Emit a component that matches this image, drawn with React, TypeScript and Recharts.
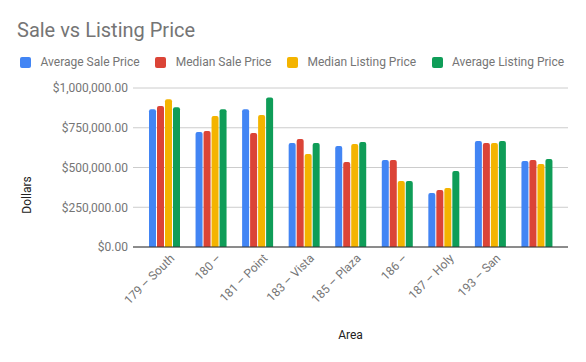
import React from 'react';
import { BarChart, Bar, XAxis, YAxis, CartesianGrid } from 'recharts';

const areas = ['179 – South', '180 –', '181 – Point', '183 – Vista', '185 – Plaza', '186 –', '187 – Holy', '193 – San', ''];
const avgSale = [866000, 723000, 866000, 654000, 635000, 547000, 340000, 667000, 541000];
const medSale = [887000, 730000, 717000, 679000, 535000, 547000, 358000, 654000, 547000];
const medList = [929000, 824000, 830000, 585000, 648000, 415000, 371000, 654000, 522000];
const avgList = [879000, 866000, 941000, 654000, 660000, 415000, 478000, 667000, 553000];
const yTicks = [0, 250000, 500000, 750000, 1000000];

const series = [
  { key: 'avgSale', name: 'Average Sale Price', color: '#4285F4', values: avgSale },
  { key: 'medSale', name: 'Median Sale Price', color: '#DB4437', values: medSale },
  { key: 'medList', name: 'Median Listing Price', color: '#F4B400', values: medList },
  { key: 'avgList', name: 'Average Listing Price', color: '#0F9D58', values: avgList },
];

const data = areas.map((area, i) => {
  const row: Record<string, any> = { area };
  series.forEach((s) => {
    row[s.key] = s.values[i];
  });
  return row;
});

const FONT = 'Roboto, "Noto Sans", sans-serif';

const fmt = (v: number) =>
  '$' + v.toLocaleString('en-US', { minimumFractionDigits: 2, maximumFractionDigits: 2 });

const XTick = (props: any) => {
  const { x, y, payload } = props;
  return (
    <g transform={`translate(${x + 11},${y + 12})`}>
      <text
        x={0}
        y={0}
        transform="rotate(-45)"
        textAnchor="end"
        fontSize={12}
        fontFamily={FONT}
        fill="#757575"
      >
        {payload.value}
      </text>
    </g>
  );
};

const DollarsLabel = () => (
  <text
    x={0}
    y={0}
    transform="translate(31,195) rotate(-90)"
    textAnchor="middle"
    fontSize={12}
    fontFamily={FONT}
    fill="#222"
  >
    Dollars
  </text>
);

const AreaLabel = (props: any) => {
  const { viewBox } = props;
  const cx = viewBox.x + viewBox.width / 2;
  return (
    <text x={cx} y={339} textAnchor="middle" fontSize={12} fontFamily={FONT} fill="#222">
      Area
    </text>
  );
};

export default function App() {
  return (
    <div
      style={{
        position: 'absolute',
        left: 0,
        top: 0,
        width: 586,
        height: 362,
        background: '#fff',
        fontFamily: FONT,
      }}
    >
      <div
        style={{
          position: 'absolute',
          left: 17,
          top: 19,
          fontSize: 20,
          lineHeight: '22px',
          color: '#757575',
          whiteSpace: 'nowrap',
        }}
      >
        Sale vs Listing Price
      </div>
      <div
        style={{
          position: 'absolute',
          left: 20,
          top: 56,
          height: 12,
          display: 'flex',
          alignItems: 'center',
          gap: 15.5,
          whiteSpace: 'nowrap',
        }}
      >
        {series.map((s) => (
          <div key={s.key} style={{ display: 'flex', alignItems: 'center' }}>
            <div
              style={{
                width: 11,
                height: 11,
                background: s.color,
                borderRadius: 2,
                marginRight: 9.5,
              }}
            />
            <span style={{ fontSize: 12, lineHeight: '12px', color: '#757575' }}>{s.name}</span>
          </div>
        ))}
      </div>
      <div style={{ position: 'absolute', left: 0, top: 0 }}>
        <BarChart
          width={586}
          height={362}
          data={data}
          margin={{ top: 88, right: 18, bottom: 0, left: 0 }}
          barGap={1}
          barSize={7}
        >
          <CartesianGrid vertical={false} stroke="#cccccc" />
          <XAxis
            dataKey="area"
            height={115}
            tickLine={false}
            tickSize={0}
            tickMargin={0}
            axisLine={{ stroke: '#333', strokeWidth: 1 }}
            padding={{ left: 8, right: 8 }}
            interval={0}
            tick={<XTick />}
            label={<AreaLabel />}
          />
          <YAxis
            width={133}
            domain={[0, 1000000]}
            ticks={yTicks}
            tickFormatter={fmt}
            axisLine={false}
            tickLine={false}
            tickSize={0}
            tickMargin={5}
            tick={{ fontSize: 12, fill: '#757575', fontFamily: FONT }}
            label={<DollarsLabel />}
          />
          {series.map((s) => (
            <Bar
              key={s.key}
              dataKey={s.key}
              name={s.name}
              fill={s.color}
              radius={[2, 2, 0, 0]}
              isAnimationActive={false}
            />
          ))}
        </BarChart>
      </div>
    </div>
  );
}
